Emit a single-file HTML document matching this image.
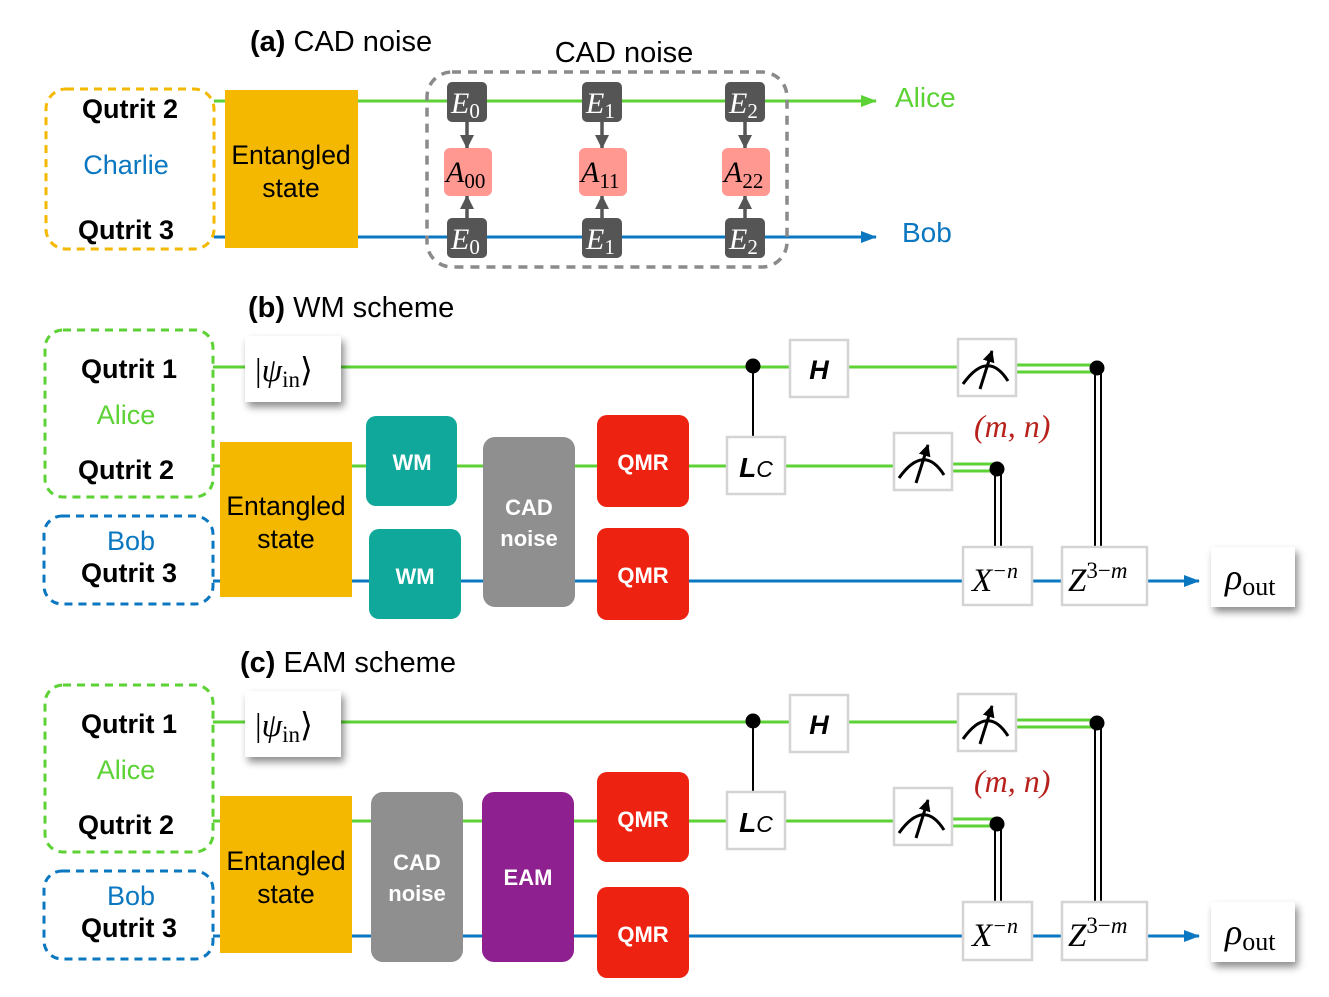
<!DOCTYPE html>
<html><head><meta charset="utf-8"><style>
html,body{margin:0;padding:0;background:#fff;}
svg{display:block;}
text{font-family:"Liberation Sans",Arial,sans-serif;}
.q{font-weight:bold;font-size:27px;fill:#000;text-anchor:middle;}
.w{font-size:26.5px;fill:#000;text-anchor:middle;}
.m{font-family:"Liberation Serif",serif;font-style:italic;}
.bx{fill:#fff;stroke:#d4d4d4;stroke-width:2.5;}
.gw{fill:#fff;font-weight:bold;font-size:22px;text-anchor:middle;}
</style></head><body>
<svg width="1329" height="997" viewBox="0 0 1329 997" xmlns="http://www.w3.org/2000/svg">
<defs>
<marker id="ab" viewBox="0 0 16 12" markerWidth="16" markerHeight="12" refX="15" refY="6" orient="auto" markerUnits="userSpaceOnUse"><path d="M0,0 L16,6 L0,12z" fill="#0a77c0"/></marker>
<marker id="ag2" viewBox="0 0 16 12" markerWidth="16" markerHeight="12" refX="15" refY="6" orient="auto" markerUnits="userSpaceOnUse"><path d="M0,0 L16,6 L0,12z" fill="#5cd235"/></marker>
<marker id="ak" viewBox="0 0 14 14" markerWidth="14" markerHeight="14" refX="13" refY="7" orient="auto" markerUnits="userSpaceOnUse"><path d="M0,0 L14,7 L0,14z" fill="#555"/></marker>
<marker id="am" viewBox="0 0 12 12" markerWidth="12" markerHeight="12" refX="11" refY="6" orient="auto" markerUnits="userSpaceOnUse"><path d="M0,0 L12,6 L0,12z" fill="#000"/></marker>
<filter id="sh" x="-30%" y="-30%" width="170%" height="170%"><feDropShadow dx="3" dy="5" stdDeviation="4" flood-color="#000" flood-opacity="0.45"/></filter>
<g id="meas">
<rect class="bx" x="0" y="0" width="58" height="57"/>
<path d="M5,45 Q30,10 50,42" fill="none" stroke="#000" stroke-width="3"/>
<line x1="22" y1="50" x2="34" y2="12" stroke="#000" stroke-width="3" marker-end="url(#am)"/>
</g>
</defs>

<!-- Panel (a) -->
<text x="250" y="51" style="font-size:29px"><tspan font-weight="bold">(a)</tspan> CAD noise</text>
<text x="624" y="62" class="w" style="font-size:29px">CAD noise</text>
<rect x="46" y="89" width="168" height="160" rx="20" fill="none" stroke="#f5b800" stroke-width="3" stroke-dasharray="8,6"/>
<text x="130" y="118" class="q">Qutrit 2</text>
<text x="126" y="174" class="w" style="fill:#0a77c0;font-size:27px">Charlie</text>
<text x="126" y="239" class="q">Qutrit 3</text>
<line x1="214" y1="101" x2="876" y2="101" stroke="#5cd235" stroke-width="3" marker-end="url(#ag2)"/>
<line x1="214" y1="237" x2="876" y2="237" stroke="#0a77c0" stroke-width="3" marker-end="url(#ab)"/>
<rect x="225" y="90" width="133" height="158" fill="#f5b800"/>
<text x="291" y="164" class="w">Entangled</text>
<text x="291" y="197" class="w">state</text>
<text x="895" y="107" style="font-size:28px;fill:#5cd235">Alice</text>
<text x="902" y="242" style="font-size:28px;fill:#0a77c0">Bob</text>
<rect x="427" y="72" width="360" height="195" rx="25" fill="none" stroke="#8a8a8a" stroke-width="3.5" stroke-dasharray="9,7"/>
<g id="col">
<line x1="467" y1="122" x2="467" y2="148" stroke="#555" stroke-width="3.5" marker-end="url(#ak)"/>
<line x1="467" y1="218" x2="467" y2="196" stroke="#555" stroke-width="3.5" marker-end="url(#ak)"/>
<rect x="447" y="82" width="40" height="40" rx="5" fill="#555"/>
<rect x="447" y="218" width="40" height="40" rx="5" fill="#555"/>
<rect x="444" y="148" width="48" height="48" rx="6" fill="#ff9890"/>
</g>
<use href="#col" x="135"/>
<use href="#col" x="278"/>
<text x="451" y="113" class="m" style="font-size:30px;fill:#fff">E<tspan font-style="normal" font-size="21" dy="5">0</tspan></text>
<text x="451" y="249" class="m" style="font-size:30px;fill:#fff">E<tspan font-style="normal" font-size="21" dy="5">0</tspan></text>
<text x="446" y="182" class="m" style="font-size:30px">A<tspan font-style="normal" font-size="21" dy="6">00</tspan></text>
<text x="586" y="113" class="m" style="font-size:30px;fill:#fff">E<tspan font-style="normal" font-size="21" dy="5">1</tspan></text>
<text x="586" y="249" class="m" style="font-size:30px;fill:#fff">E<tspan font-style="normal" font-size="21" dy="5">1</tspan></text>
<text x="581" y="182" class="m" style="font-size:30px">A<tspan font-style="normal" font-size="21" dy="6">11</tspan></text>
<text x="729" y="113" class="m" style="font-size:30px;fill:#fff">E<tspan font-style="normal" font-size="21" dy="5">2</tspan></text>
<text x="729" y="249" class="m" style="font-size:30px;fill:#fff">E<tspan font-style="normal" font-size="21" dy="5">2</tspan></text>
<text x="724" y="182" class="m" style="font-size:30px">A<tspan font-style="normal" font-size="21" dy="6">22</tspan></text>

<!-- Shared right part for (b) and (c) -->
<g id="right">
<line x1="213" y1="367" x2="958" y2="367" stroke="#5cd235" stroke-width="3"/>
<line x1="1016" y1="365" x2="1097" y2="365" stroke="#5cd235" stroke-width="3"/>
<line x1="1016" y1="372" x2="1097" y2="372" stroke="#5cd235" stroke-width="3"/>
<line x1="213" y1="466" x2="894" y2="466" stroke="#5cd235" stroke-width="3"/>
<line x1="952" y1="464" x2="997" y2="464" stroke="#5cd235" stroke-width="3"/>
<line x1="952" y1="471" x2="997" y2="471" stroke="#5cd235" stroke-width="3"/>
<line x1="213" y1="581" x2="1199" y2="581" stroke="#0a77c0" stroke-width="3" marker-end="url(#ab)"/>
<line x1="995" y1="469" x2="995" y2="547" stroke="#000" stroke-width="2"/>
<line x1="1001" y1="469" x2="1001" y2="547" stroke="#000" stroke-width="2"/>
<line x1="1095" y1="368" x2="1095" y2="547" stroke="#000" stroke-width="2"/>
<line x1="1101" y1="368" x2="1101" y2="547" stroke="#000" stroke-width="2"/>
<circle cx="997" cy="469" r="7.5" fill="#000"/>
<circle cx="1097" cy="368" r="7.5" fill="#000"/>
<line x1="753" y1="366" x2="753" y2="437" stroke="#000" stroke-width="2"/>
<circle cx="753" cy="366" r="7.5" fill="#000"/>
<rect class="bx" x="727" y="437" width="58" height="57"/>
<text x="756" y="477" style="font-size:28px;font-style:italic;font-weight:bold;text-anchor:middle">L<tspan font-weight="normal" font-size="23">C</tspan></text>
<rect class="bx" x="790" y="340" width="58" height="57"/>
<text x="819" y="379" style="font-size:27px;font-style:italic;font-weight:bold;text-anchor:middle">H</text>
<use href="#meas" x="958" y="339"/>
<use href="#meas" x="894" y="433"/>
<rect class="bx" x="963" y="547" width="69" height="58"/>
<text x="972" y="591" class="m" style="font-size:33px">X<tspan font-size="22" dy="-13">−n</tspan></text>
<rect class="bx" x="1062" y="547" width="85" height="58"/>
<text x="1068" y="591" class="m" style="font-size:33px">Z<tspan font-style="normal" font-size="23" dy="-13">3−</tspan><tspan font-size="23">m</tspan></text>
<rect x="1211" y="547" width="84" height="60" fill="#fff" filter="url(#sh)"/>
<text x="1225" y="589" class="m" style="font-size:36px">ρ<tspan font-style="normal" font-size="26" dy="6">out</tspan></text>
<text x="974" y="437" class="m" style="font-size:32px;fill:#b8211b">(m, n)</text>
<rect x="245" y="336" width="96" height="66" fill="#fff" filter="url(#sh)"/>
<text x="255" y="381" class="m" style="font-size:33px"><tspan font-style="normal">|</tspan>ψ<tspan font-style="normal" font-size="23" dy="6">in</tspan><tspan font-style="normal" dy="-6">⟩</tspan></text>
<rect x="45" y="330" width="168" height="167" rx="18" fill="none" stroke="#5cd235" stroke-width="3" stroke-dasharray="8,6"/>
<text x="129" y="378" class="q">Qutrit 1</text>
<text x="126" y="424" class="w" style="fill:#5cd235;font-size:27px">Alice</text>
<text x="126" y="479" class="q">Qutrit 2</text>
<rect x="44" y="516" width="169" height="88" rx="18" fill="none" stroke="#0a77c0" stroke-width="3" stroke-dasharray="8,6"/>
<text x="131" y="550" class="w" style="fill:#0a77c0;font-size:27px">Bob</text>
<text x="129" y="582" class="q">Qutrit 3</text>
</g>
<use href="#right" x="0" y="355"/>

<!-- Panel (b) middle -->
<text x="248" y="317" style="font-size:29px"><tspan font-weight="bold">(b)</tspan> WM scheme</text>
<rect x="220" y="442" width="132" height="155" fill="#f5b800"/>
<text x="286" y="515" class="w">Entangled</text>
<text x="286" y="548" class="w">state</text>
<rect x="366" y="416" width="91" height="90" rx="10" fill="#0fa89a"/>
<text x="412" y="470" class="gw">WM</text>
<rect x="369" y="529" width="92" height="90" rx="10" fill="#0fa89a"/>
<text x="415" y="584" class="gw">WM</text>
<rect x="483" y="437" width="92" height="170" rx="12" fill="#8f8f8f"/>
<text x="529" y="515" class="gw">CAD</text>
<text x="529" y="546" class="gw">noise</text>
<rect x="597" y="415" width="92" height="92" rx="10" fill="#ee2211"/>
<text x="643" y="470" class="gw">QMR</text>
<rect x="597" y="528" width="92" height="92" rx="10" fill="#ee2211"/>
<text x="643" y="583" class="gw">QMR</text>

<!-- Panel (c) middle -->
<text x="240" y="672" style="font-size:29px"><tspan font-weight="bold">(c)</tspan> EAM scheme</text>
<rect x="220" y="796" width="132" height="157" fill="#f5b800"/>
<text x="286" y="870" class="w">Entangled</text>
<text x="286" y="903" class="w">state</text>
<rect x="371" y="792" width="92" height="170" rx="12" fill="#8f8f8f"/>
<text x="417" y="870" class="gw">CAD</text>
<text x="417" y="901" class="gw">noise</text>
<rect x="482" y="792" width="92" height="170" rx="12" fill="#8e2090"/>
<text x="528" y="885" class="gw">EAM</text>
<rect x="597" y="772" width="92" height="90" rx="10" fill="#ee2211"/>
<text x="643" y="827" class="gw">QMR</text>
<rect x="597" y="887" width="92" height="91" rx="10" fill="#ee2211"/>
<text x="643" y="942" class="gw">QMR</text>
</svg>
</body></html>
